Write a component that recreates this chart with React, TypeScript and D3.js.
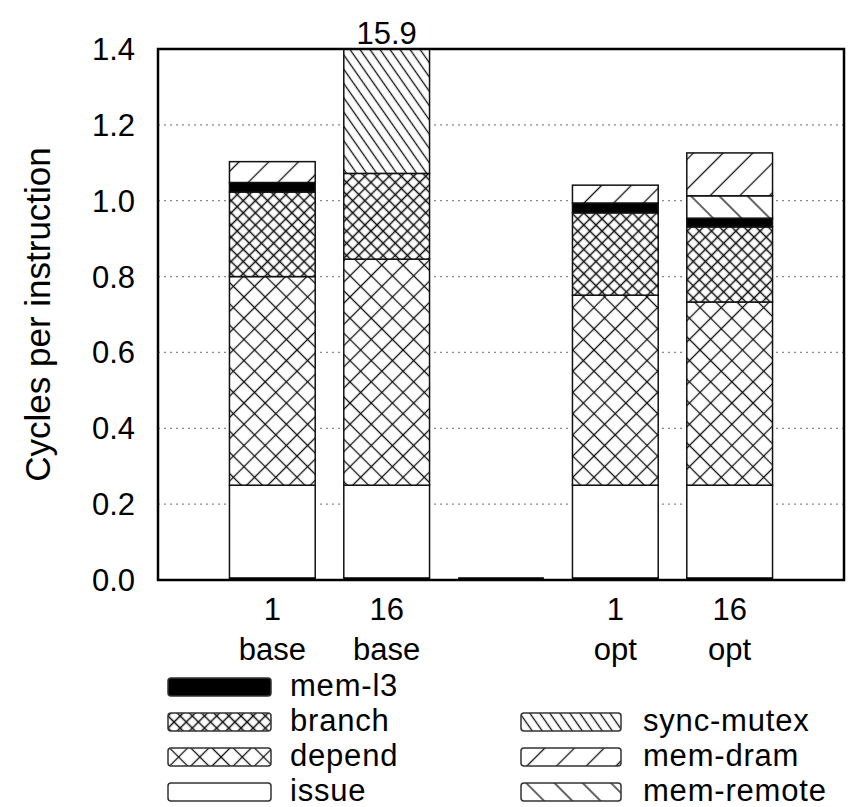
import React from "react";
import * as d3 from "d3";

// Configurations along the x axis (the blank one separates the two groups)
const threads = ["1", "16", "", "1", "16"];
const variants = ["base", "base", "", "opt", "opt"];

// Stack components, bottom to top
const components = ["issue", "depend", "branch", "mem-l3", "mem-remote", "mem-dram", "sync-mutex"];

// Cycles per instruction of each component, one entry per configuration
const issue = [0.25, 0.25, 0, 0.25, 0.25];
const depend = [0.55, 0.596, 0, 0.501, 0.483];
const branch = [0.223, 0.226, 0, 0.217, 0.198];
const memL3 = [0.025, 0, 0, 0.026, 0.023];
const memRemote = [0, 0, 0, 0, 0.059];
const memDram = [0.055, 0, 0, 0.047, 0.113];
const syncMutex = [0, 14.828, 0, 0, 0];

// Totals printed above bars that run off the top of the axis
const overflowLabels = ["", "15.9", "", "", ""];

const yTicks = [0, 0.2, 0.4, 0.6, 0.8, 1.0, 1.2, 1.4];
const gridTicks = [0.2, 0.4, 0.6, 0.8, 1.0, 1.2];

const legendLeft = ["mem-l3", "branch", "depend", "issue"];
const legendRight = ["sync-mutex", "mem-dram", "mem-remote"];

const W = 855;
const H = 807;
const left = 158;
const right = 844;
const top = 49;
const bottom = 580;
const FONT = "'Liberation Sans', Arial, Helvetica, sans-serif";
const FS = 31;

const seriesValues: Record<string, number[]> = {
  issue,
  depend,
  branch,
  "mem-l3": memL3,
  "mem-remote": memRemote,
  "mem-dram": memDram,
  "sync-mutex": syncMutex,
};

const fills: Record<string, string> = {
  issue: "#ffffff",
  depend: "url(#pat-depend)",
  branch: "url(#pat-branch)",
  "mem-l3": "#000000",
  "mem-remote": "url(#pat-remote)",
  "mem-dram": "url(#pat-dram)",
  "sync-mutex": "url(#pat-mutex)",
};

function Hatch({ id, size, angle, width = 1.3 }: { id: string; size: number; angle: number; width?: number }) {
  return (
    <pattern id={id} patternUnits="userSpaceOnUse" width={size} height={size} patternTransform={`rotate(${angle})`}>
      <rect width={size} height={size} fill="#fff" />
      <line x1={0} y1={size / 2} x2={size} y2={size / 2} stroke="#111" strokeWidth={width} />
    </pattern>
  );
}

function Cross({ id, size, width }: { id: string; size: number; width: number }) {
  return (
    <pattern id={id} patternUnits="userSpaceOnUse" width={size} height={size} patternTransform="rotate(45)">
      <rect width={size} height={size} fill="#fff" />
      <line x1={0} y1={size / 2} x2={size} y2={size / 2} stroke="#111" strokeWidth={width} />
      <line x1={size / 2} y1={0} x2={size / 2} y2={size} stroke="#111" strokeWidth={width} />
    </pattern>
  );
}

export default function App() {
  const keys = threads.map((_, i) => String(i));
  const x = d3.scaleBand<string>().domain(keys).range([left, right]).paddingInner(0.25).paddingOuter(0.625);
  const y = d3.scaleLinear().domain([0, 1.4]).range([bottom, top]);

  const rows = keys.map((k, i) => {
    const r: Record<string, number | string> = { key: k };
    components.forEach((c) => (r[c] = seriesValues[c][i]));
    return r;
  });
  const stacked = d3.stack<Record<string, number | string>>().keys(components)(rows as any);

  const rowH = 35;
  const legendY0 = 687;

  return (
    <svg width={W} height={H} style={{ position: "absolute", left: 0, top: 0, background: "#fff" }}>
      <defs>
        <Cross id="pat-depend" size={15} width={1.3} />
        <Cross id="pat-branch" size={8.6} width={1.5} />
        <Hatch id="pat-dram" size={21} angle={-45} />
        <Hatch id="pat-remote" size={20} angle={45} />
        <Hatch id="pat-mutex" size={8.2} angle={55} width={1.3} />
        <clipPath id="plot-clip">
          <rect x={left} y={top} width={right - left} height={bottom - top} />
        </clipPath>
      </defs>
      <rect width={W} height={H} fill="#fff" />

      {/* dotted grid */}
      {gridTicks.map((t) => (
        <line key={t} x1={left} x2={right} y1={y(t)} y2={y(t)} stroke="#888" strokeWidth={1.3} strokeDasharray="2,4" />
      ))}

      {/* stacked bars */}
      <g clipPath="url(#plot-clip)">
        {stacked.map((s) =>
          s.map((d, i) => {
            const h = y(d[0]) - y(d[1]);
            if (h <= 0) return null;
            return (
              <rect
                key={s.key + i}
                x={x(keys[i])}
                y={y(d[1])}
                width={x.bandwidth()}
                height={h}
                fill={fills[s.key]}
                stroke="#111"
                strokeWidth={1.5}
              />
            );
          })
        )}
      </g>

      {/* base of each bar */}
      {keys.map((k) => (
        <line key={k} x1={x(k)} x2={(x(k) as number) + x.bandwidth()} y1={bottom - 1} y2={bottom - 1} stroke="#000" strokeWidth={3.5} />
      ))}

      {/* frame */}
      <rect x={left} y={top} width={right - left} height={bottom - top} fill="none" stroke="#000" strokeWidth={2.5} />

      {/* y axis */}
      {yTicks.map((t) => (
        <text key={t} x={135} y={y(t) + 11} textAnchor="end" fontFamily={FONT} fontSize={31} fill="#000">
          {t.toFixed(1)}
        </text>
      ))}
      <text
        transform={`translate(50,${(top + bottom) / 2}) rotate(-90)`}
        textAnchor="middle"
        fontFamily={FONT}
        fontSize={35}
        fill="#000"
      >
        Cycles per instruction
      </text>

      {/* x labels */}
      {keys.map((k, i) => {
        const cx = (x(k) as number) + x.bandwidth() / 2;
        return (
          <g key={k} fontFamily={FONT} fontSize={FS} textAnchor="middle" fill="#000">
            <text x={cx} y={620}>{threads[i]}</text>
            <text x={cx} y={660}>{variants[i]}</text>
            {overflowLabels[i] && (
              <text x={cx} y={44}>{overflowLabels[i]}</text>
            )}
          </g>
        );
      })}

      {/* legend */}
      {legendLeft.map((c, i) => (
        <g key={c} transform={`translate(168,${legendY0 + i * rowH})`}>
          <rect x={0} y={-9} width={103} height={18} rx={3} fill={fills[c]} stroke="#333" strokeWidth={1.5} />
          <text x={122} y={9} fontFamily={FONT} fontSize={FS} letterSpacing={0.8} fill="#000">{c}</text>
        </g>
      ))}
      {legendRight.map((c, i) => (
        <g key={c} transform={`translate(521,${legendY0 + (i + 1) * rowH})`}>
          <rect x={0} y={-9} width={100} height={18} rx={3} fill={fills[c]} stroke="#333" strokeWidth={1.5} />
          <text x={122} y={9} fontFamily={FONT} fontSize={FS} letterSpacing={0.8} fill="#000">{c}</text>
        </g>
      ))}
    </svg>
  );
}
